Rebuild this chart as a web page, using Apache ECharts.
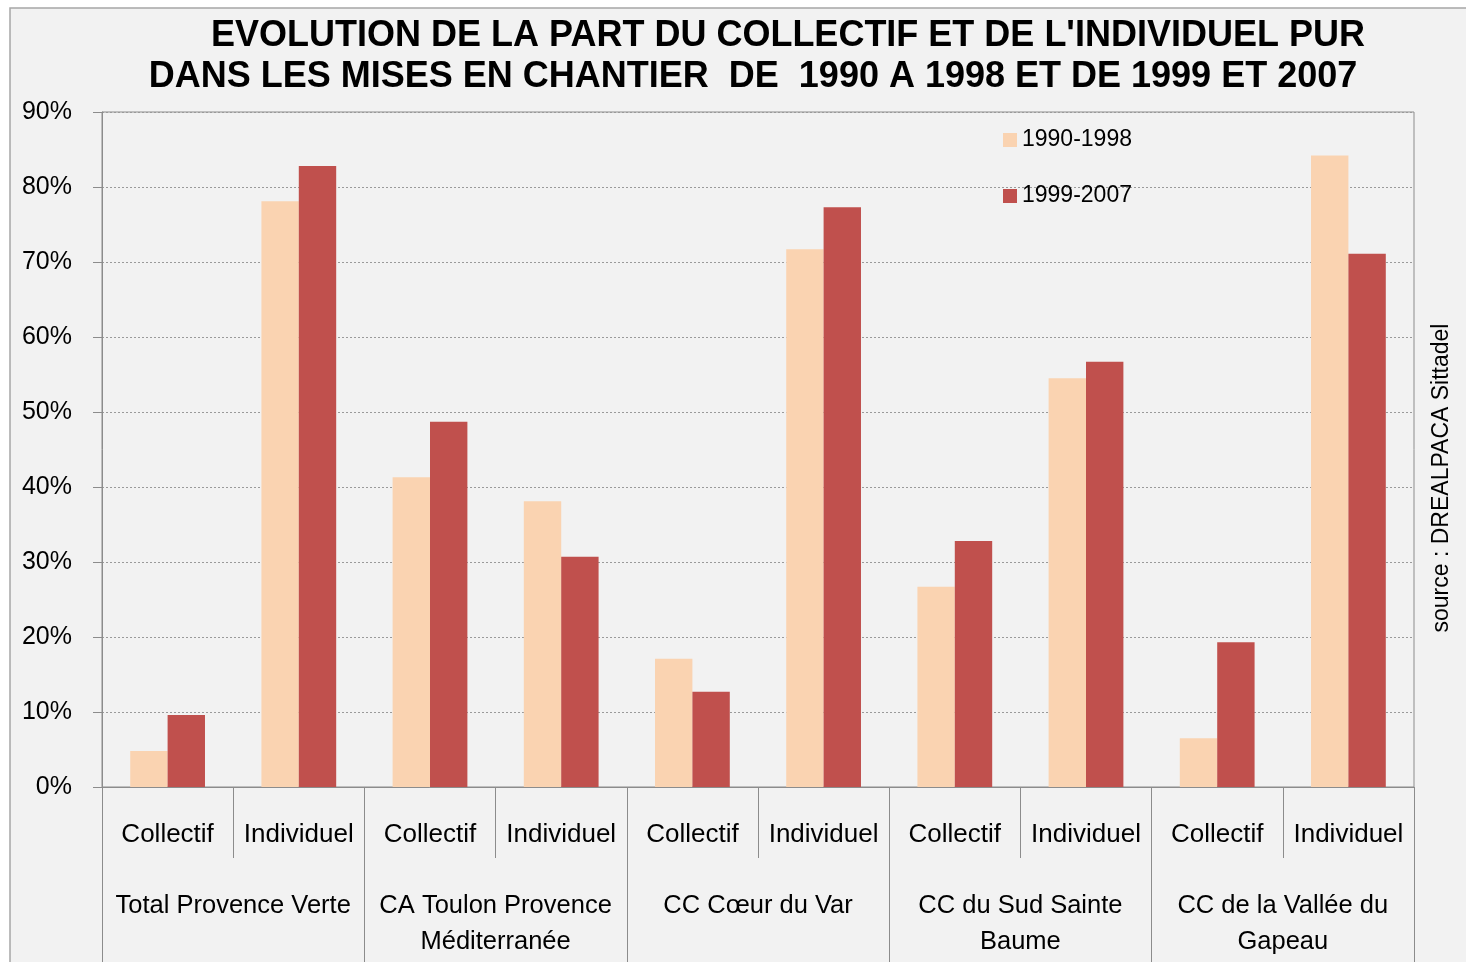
<!DOCTYPE html>
<html>
<head>
<meta charset="utf-8">
<script src="https://cdn.jsdelivr.net/npm/echarts@6/dist/echarts.min.js"></script>
<style>
html,body{margin:0;padding:0;background:#ffffff;}
#main{width:1466px;height:962px;}
</style>
</head>
<body>
<div id="main"></div>
<script>
const titleLines = [
  "EVOLUTION DE LA PART DU COLLECTIF ET DE L'INDIVIDUEL PUR",
  "DANS LES MISES EN CHANTIER  DE  1990 A 1998 ET DE 1999 ET 2007"
];
const categories = ["Collectif","Individuel","Collectif","Individuel","Collectif","Individuel","Collectif","Individuel","Collectif","Individuel"];
const groups = ["Total Provence Verte","CA Toulon Provence\nMéditerranée","CC Cœur du Var","CC du Sud Sainte\nBaume","CC de la Vallée du\nGapeau"];
const seriesNames = ["1990-1998","1999-2007"];
const values1990_1998 = [4.8, 78.1, 41.3, 38.1, 17.1, 71.7, 26.7, 54.5, 6.5, 84.2];
const values1999_2007 = [9.6, 82.8, 48.7, 30.7, 12.7, 77.3, 32.8, 56.7, 19.3, 71.1];
const sourceText = "source : DREALPACA Sittadel";

const FONT = "'Liberation Sans', Arial, sans-serif";
const chart = echarts.init(document.getElementById('main'));
const axisGray = '#8c8c8c';
chart.setOption({
  backgroundColor: '#ffffff',
  animation: false,
  graphic: [
    { type: 'rect', z: -10, shape: { x: 10, y: 8, width: 1480, height: 980 },
      style: { fill: '#f2f2f2', stroke: '#a6a6a6', lineWidth: 1.5 } },
    { type: 'text', x: 788, y: 36, style: { text: titleLines[0], fill: '#000',
      font: "bold 36px 'Liberation Sans', Arial, sans-serif", textAlign: 'center', textVerticalAlign: 'middle' } },
    { type: 'text', x: 753, y: 77, style: { text: titleLines[1], fill: '#000',
      font: "bold 36px 'Liberation Sans', Arial, sans-serif", textAlign: 'center', textVerticalAlign: 'middle' } },
    { type: 'text', x: 1442, y: 478, rotation: Math.PI / 2, style: { text: sourceText, fill: '#000',
      font: "23px 'Liberation Sans', Arial, sans-serif", textAlign: 'center', textVerticalAlign: 'middle' } }
  ],
  legend: {
    orient: 'vertical', left: 998, top: 122,
    itemWidth: 14, itemHeight: 14, itemGap: 30, icon: 'rect',
    textStyle: { fontFamily: FONT, fontSize: 23, color: '#000', lineHeight: 26, padding: [0,0,0,0] },
    data: seriesNames
  },
  grid: { left: 102, right: 52, top: 112, bottom: 175, show: true, borderColor: axisGray, borderWidth: 1, backgroundColor: 'transparent' },
  xAxis: [
    { type: 'category', data: categories, position: 'bottom',
      axisLine: { show: true, lineStyle: { color: axisGray, width: 1 } },
      axisTick: { show: true, length: 71, interval: 0, lineStyle: { color: axisGray } },
      axisLabel: { interval: 0, margin: 34, fontFamily: FONT, fontSize: 26, color: '#000', lineHeight: 28 },
      splitLine: { show: false } },
    { type: 'category', data: groups, position: 'bottom',
      axisLine: { show: false },
      axisTick: { show: true, length: 175, interval: 0, lineStyle: { color: axisGray } },
      axisLabel: { interval: 0, margin: 101, fontFamily: FONT, fontSize: 25.5, color: '#000', lineHeight: 36 },
      splitLine: { show: false } }
  ],
  yAxis: {
    type: 'value', min: 0, max: 90, interval: 10,
    axisLine: { show: true, lineStyle: { color: axisGray, width: 1 } },
    axisTick: { show: true, length: 9, lineStyle: { color: axisGray } },
    axisLabel: { formatter: '{value}%', margin: 30, fontFamily: FONT, fontSize: 25, color: '#000' },
    splitLine: { show: true, lineStyle: { color: '#9a9a9a', type: [2, 2], width: 1 } }
  },
  series: [
    { name: seriesNames[0], type: 'bar', xAxisIndex: 0, data: values1990_1998,
      itemStyle: { color: '#fad3b1' }, barGap: '0%', barCategoryGap: '43%' },
    { name: seriesNames[1], type: 'bar', xAxisIndex: 0, data: values1999_2007,
      itemStyle: { color: '#c0504d' }, barGap: '0%', barCategoryGap: '43%' }
  ]
});
</script>
</body>
</html>
